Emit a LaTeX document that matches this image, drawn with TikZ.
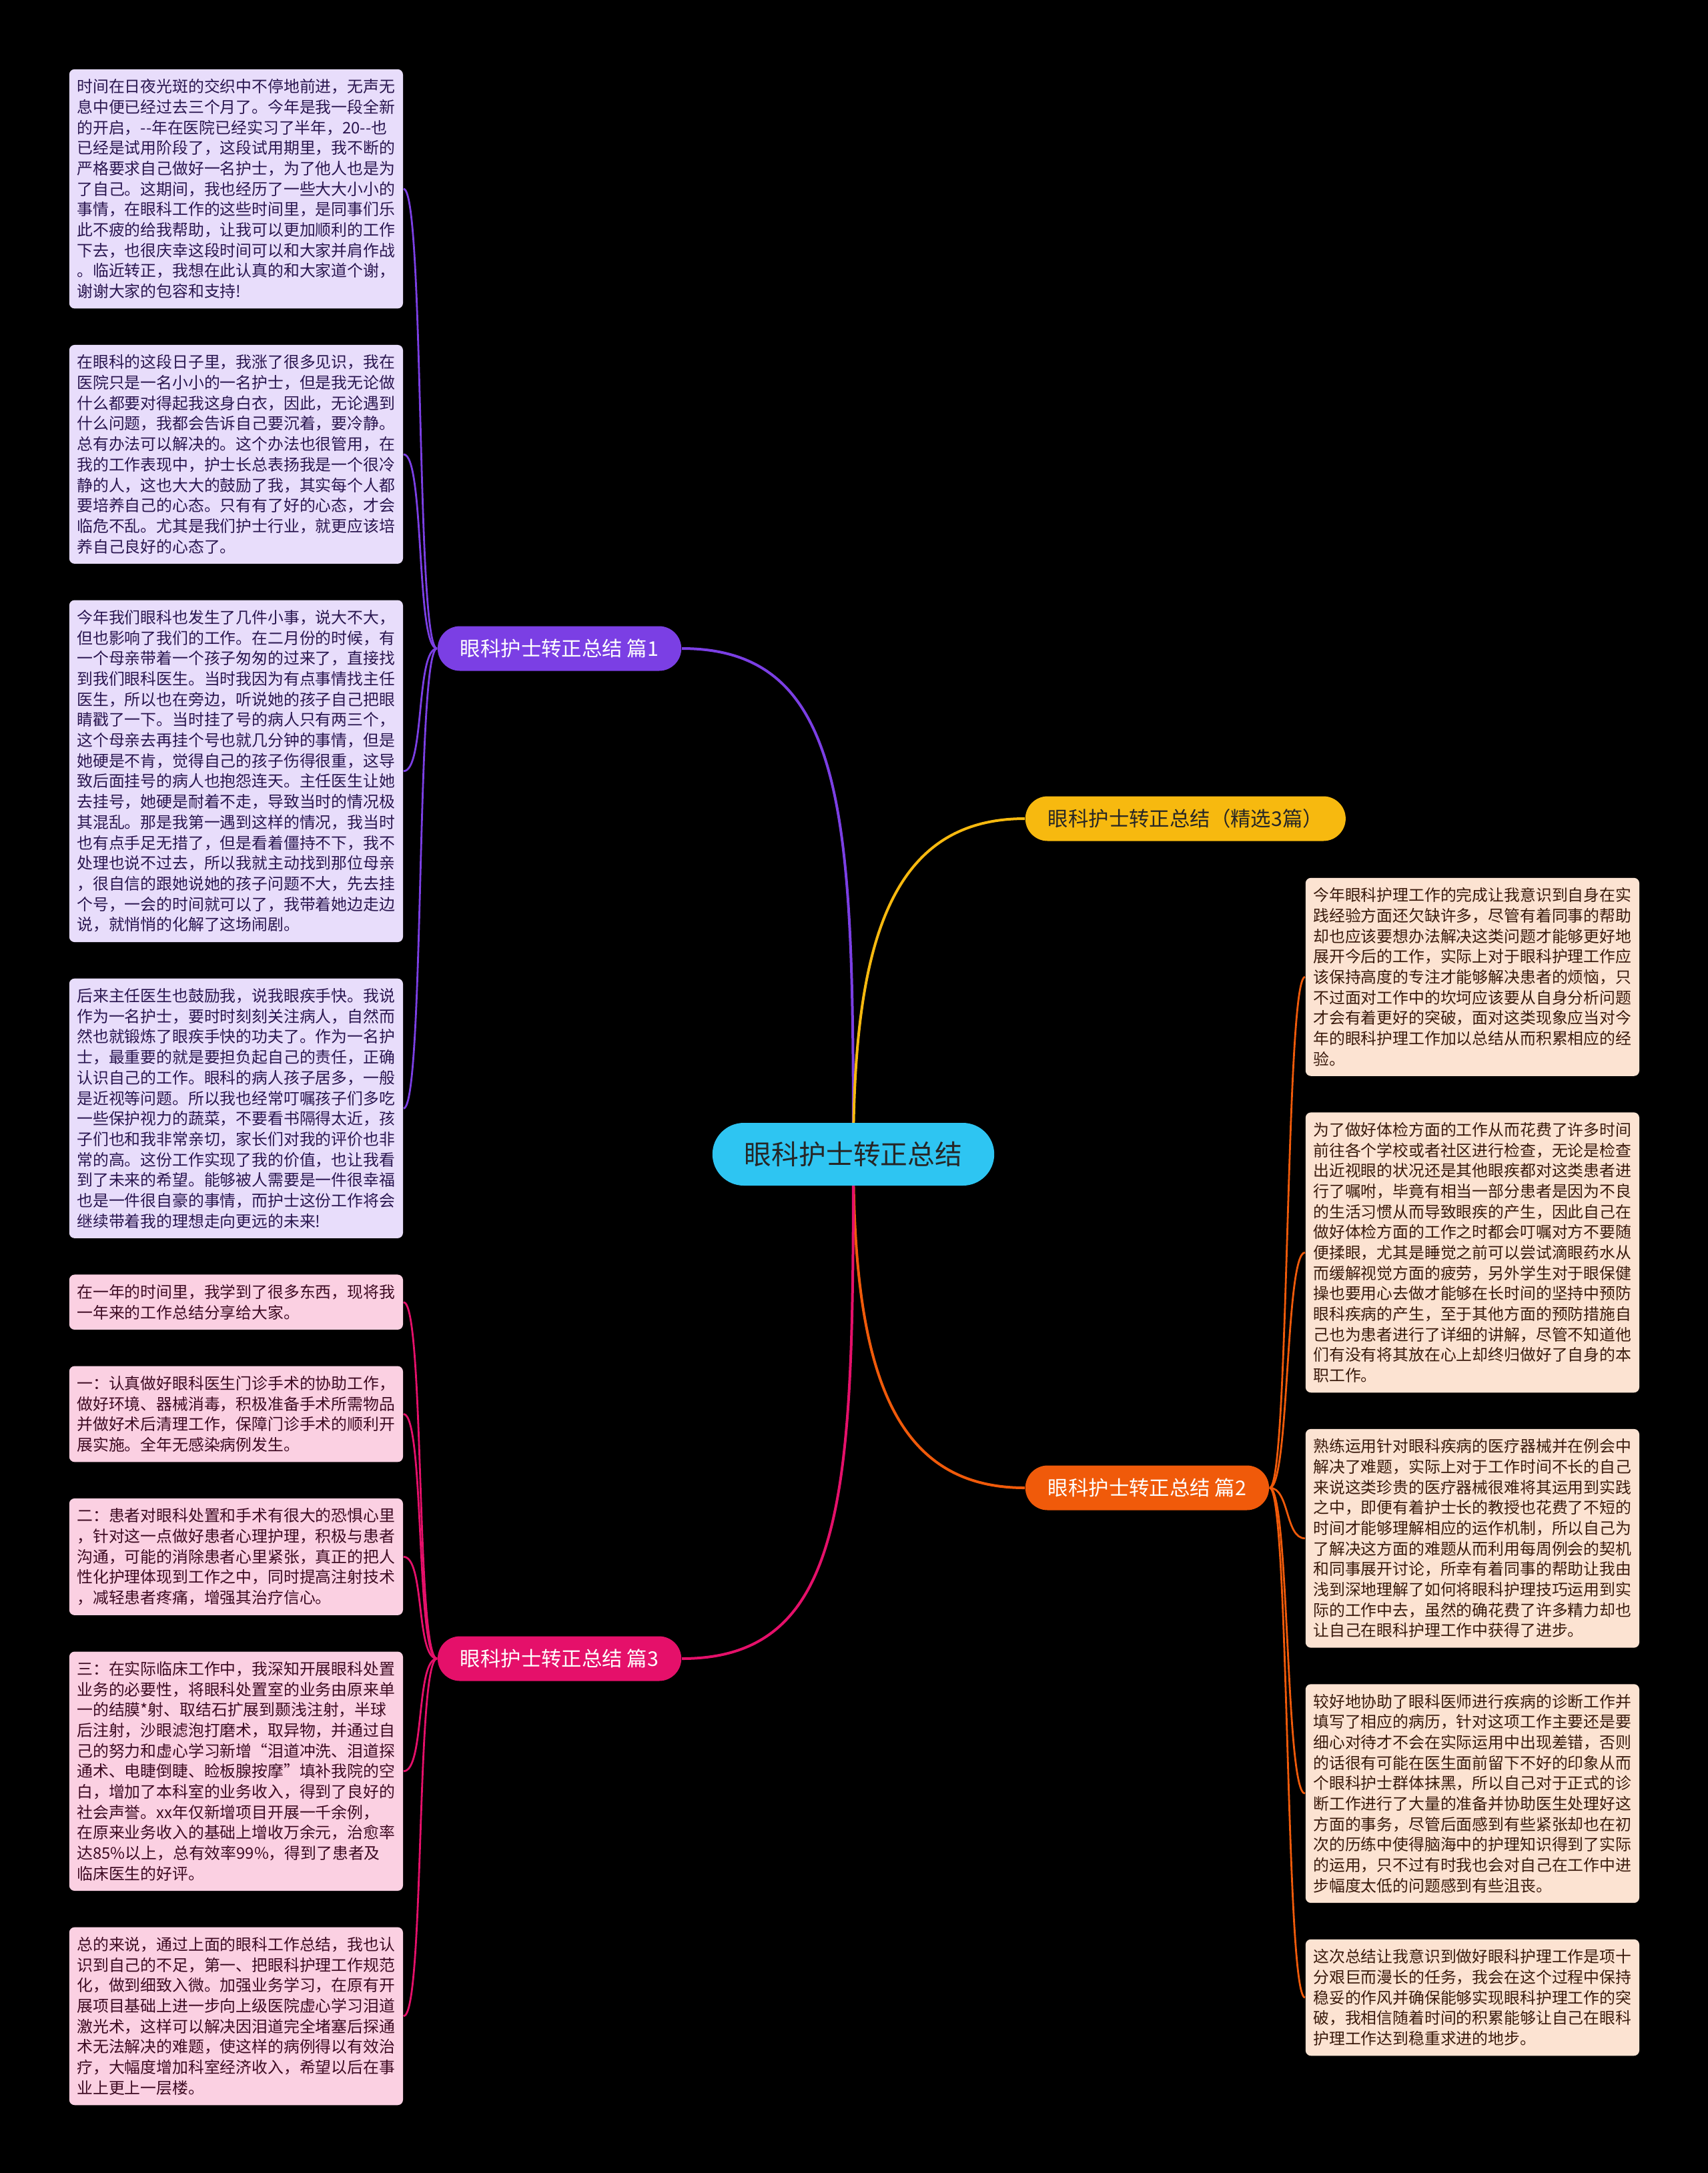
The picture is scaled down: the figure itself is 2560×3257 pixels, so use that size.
\documentclass[tikz,border=0pt]{standalone}
\usepackage{fontspec}
\newfontfamily\cjk{Noto Sans CJK SC}
\usetikzlibrary{positioning, backgrounds}
\definecolor{rootcyan}{HTML}{2EC5F2}
\definecolor{vio}{HTML}{7B3FE4}
\definecolor{gold}{HTML}{F7B90F}
\definecolor{tang}{HTML}{F05A0A}
\definecolor{rose}{HTML}{E5106A}
\definecolor{lavfill}{HTML}{E8DDFB}
\definecolor{lavtext}{HTML}{2A1650}
\definecolor{pinkfill}{HTML}{FBD0E2}
\definecolor{pinktext}{HTML}{3D0A22}
\definecolor{peachfill}{HTML}{FCE3D2}
\definecolor{peachtext}{HTML}{3A1A0C}
\tikzset{
    leaf/.style={rounded corners=2pt, align=left, text width=119.25pt, inner xsep=2.9pt, inner ysep=3.7pt, font=\fontsize{5.96pt}{7.67pt}\selectfont\cjk},
    lav/.style={leaf, fill=lavfill, text=lavtext},
    pink/.style={leaf, fill=pinkfill, text=pinktext},
    peach/.style={leaf, fill=peachfill, text=peachtext},
    branch/.style={rounded corners=8.37pt, minimum height=16.75pt, inner xsep=8.5pt, inner ysep=0pt, text=white, font=\fontsize{7.6pt}{9pt}\selectfont\cjk},
    root/.style={fill=rootcyan, rounded corners=11.75pt, minimum height=23.5pt, inner xsep=12pt, inner ysep=0pt, text=black!85, font=\fontsize{10.2pt}{12pt}\selectfont\cjk},
    link/.style={line width=1pt},
    twig/.style={line width=0.7pt}
}

\begin{document}
\begin{tikzpicture}[x=0.25pt, y=-0.25pt, node distance=13.25pt]
    \useasboundingbox (0,0) rectangle (2560,3257);

    \node [root] (root) at (1279,1730) {眼科护士转正总结};
    \node [branch, fill=vio, anchor=east] (sec1) at (1022,972) {眼科护士转正总结 篇1};
    \node [branch, fill=gold, text=black!85, anchor=west] (sel) at (1536,1227) {眼科护士转正总结（精选3篇）};
    \node [branch, fill=tang, anchor=west] (sec2) at (1536,2230) {眼科护士转正总结 篇2};
    \node [branch, fill=rose, anchor=east] (sec3) at (1022,2486) {眼科护士转正总结 篇3};

    \node [lav, anchor=north west] (l1) at (103,103) {时间在日夜光斑的交织中不停地前进，无声无\\息中便已经过去三个月了。今年是我一段全新\\的开启，--年在医院已经实习了半年，20--也\\已经是试用阶段了，这段试用期里，我不断的\\严格要求自己做好一名护士，为了他人也是为\\了自己。这期间，我也经历了一些大大小小的\\事情，在眼科工作的这些时间里，是同事们乐\\此不疲的给我帮助，让我可以更加顺利的工作\\下去，也很庆幸这段时间可以和大家并肩作战\\。临近转正，我想在此认真的和大家道个谢，\\谢谢大家的包容和支持!};
    \node [lav, below=of l1] (l2) {在眼科的这段日子里，我涨了很多见识，我在\\医院只是一名小小的一名护士，但是我无论做\\什么都要对得起我这身白衣，因此，无论遇到\\什么问题，我都会告诉自己要沉着，要冷静。\\总有办法可以解决的。这个办法也很管用，在\\我的工作表现中，护士长总表扬我是一个很冷\\静的人，这也大大的鼓励了我，其实每个人都\\要培养自己的心态。只有有了好的心态，才会\\临危不乱。尤其是我们护士行业，就更应该培\\养自己良好的心态了。};
    \node [lav, below=of l2] (l3) {今年我们眼科也发生了几件小事，说大不大，\\但也影响了我们的工作。在二月份的时候，有\\一个母亲带着一个孩子匆匆的过来了，直接找\\到我们眼科医生。当时我因为有点事情找主任\\医生，所以也在旁边，听说她的孩子自己把眼\\睛戳了一下。当时挂了号的病人只有两三个，\\这个母亲去再挂个号也就几分钟的事情，但是\\她硬是不肯，觉得自己的孩子伤得很重，这导\\致后面挂号的病人也抱怨连天。主任医生让她\\去挂号，她硬是耐着不走，导致当时的情况极\\其混乱。那是我第一遇到这样的情况，我当时\\也有点手足无措了，但是看着僵持不下，我不\\处理也说不过去，所以我就主动找到那位母亲\\，很自信的跟她说她的孩子问题不大，先去挂\\个号，一会的时间就可以了，我带着她边走边\\说，就悄悄的化解了这场闹剧。};
    \node [lav, below=of l3] (l4) {后来主任医生也鼓励我，说我眼疾手快。我说\\作为一名护士，要时时刻刻关注病人，自然而\\然也就锻炼了眼疾手快的功夫了。作为一名护\\士，最重要的就是要担负起自己的责任，正确\\认识自己的工作。眼科的病人孩子居多，一般\\是近视等问题。所以我也经常叮嘱孩子们多吃\\一些保护视力的蔬菜，不要看书隔得太近，孩\\子们也和我非常亲切，家长们对我的评价也非\\常的高。这份工作实现了我的价值，也让我看\\到了未来的希望。能够被人需要是一件很幸福\\也是一件很自豪的事情，而护士这份工作将会\\继续带着我的理想走向更远的未来!};

    \node [pink, below=of l4] (p1) {在一年的时间里，我学到了很多东西，现将我\\一年来的工作总结分享给大家。};
    \node [pink, below=of p1] (p2) {一：认真做好眼科医生门诊手术的协助工作，\\做好环境、器械消毒，积极准备手术所需物品\\并做好术后清理工作，保障门诊手术的顺利开\\展实施。全年无感染病例发生。};
    \node [pink, below=of p2] (p3) {二：患者对眼科处置和手术有很大的恐惧心里\\，针对这一点做好患者心理护理，积极与患者\\沟通，可能的消除患者心里紧张，真正的把人\\性化护理体现到工作之中，同时提高注射技术\\，减轻患者疼痛，增强其治疗信心。};
    \node [pink, below=of p3] (p4) {三：在实际临床工作中，我深知开展眼科处置\\业务的必要性，将眼科处置室的业务由原来单\\一的结膜*射、取结石扩展到颞浅注射，半球\\后注射，沙眼滤泡打磨术，取异物，并通过自\\己的努力和虚心学习新增“泪道冲洗、泪道探\\通术、电睫倒睫、睑板腺按摩”填补我院的空\\白，增加了本科室的业务收入，得到了良好的\\社会声誉。xx年仅新增项目开展一千余例，\\在原来业务收入的基础上增收万余元，治愈率\\达85\%以上，总有效率99\%，得到了患者及\\临床医生的好评。};
    \node [pink, below=of p4] (p5) {总的来说，通过上面的眼科工作总结，我也认\\识到自己的不足，第一、把眼科护理工作规范\\化，做到细致入微。加强业务学习，在原有开\\展项目基础上进一步向上级医院虚心学习泪道\\激光术，这样可以解决因泪道完全堵塞后探通\\术无法解决的难题，使这样的病例得以有效治\\疗，大幅度增加科室经济收入，希望以后在事\\业上更上一层楼。};

    \node [peach, anchor=north west] (r1) at (1956,1315) {今年眼科护理工作的完成让我意识到自身在实\\践经验方面还欠缺许多，尽管有着同事的帮助\\却也应该要想办法解决这类问题才能够更好地\\展开今后的工作，实际上对于眼科护理工作应\\该保持高度的专注才能够解决患者的烦恼，只\\不过面对工作中的坎坷应该要从自身分析问题\\才会有着更好的突破，面对这类现象应当对今\\年的眼科护理工作加以总结从而积累相应的经\\验。};
    \node [peach, below=of r1] (r2) {为了做好体检方面的工作从而花费了许多时间\\前往各个学校或者社区进行检查，无论是检查\\出近视眼的状况还是其他眼疾都对这类患者进\\行了嘱咐，毕竟有相当一部分患者是因为不良\\的生活习惯从而导致眼疾的产生，因此自己在\\做好体检方面的工作之时都会叮嘱对方不要随\\便揉眼，尤其是睡觉之前可以尝试滴眼药水从\\而缓解视觉方面的疲劳，另外学生对于眼保健\\操也要用心去做才能够在长时间的坚持中预防\\眼科疾病的产生，至于其他方面的预防措施自\\己也为患者进行了详细的讲解，尽管不知道他\\们有没有将其放在心上却终归做好了自身的本\\职工作。};
    \node [peach, below=of r2] (r3) {熟练运用针对眼科疾病的医疗器械并在例会中\\解决了难题，实际上对于工作时间不长的自己\\来说这类珍贵的医疗器械很难将其运用到实践\\之中，即便有着护士长的教授也花费了不短的\\时间才能够理解相应的运作机制，所以自己为\\了解决这方面的难题从而利用每周例会的契机\\和同事展开讨论，所幸有着同事的帮助让我由\\浅到深地理解了如何将眼科护理技巧运用到实\\际的工作中去，虽然的确花费了许多精力却也\\让自己在眼科护理工作中获得了进步。};
    \node [peach, below=of r3] (r4) {较好地协助了眼科医师进行疾病的诊断工作并\\填写了相应的病历，针对这项工作主要还是要\\细心对待才不会在实际运用中出现差错，否则\\的话很有可能在医生面前留下不好的印象从而\\个眼科护士群体抹黑，所以自己对于正式的诊\\断工作进行了大量的准备并协助医生处理好这\\方面的事务，尽管后面感到有些紧张却也在初\\次的历练中使得脑海中的护理知识得到了实际\\的运用，只不过有时我也会对自己在工作中进\\步幅度太低的问题感到有些沮丧。};
    \node [peach, below=of r4] (r5) {这次总结让我意识到做好眼科护理工作是项十\\分艰巨而漫长的任务，我会在这个过程中保持\\稳妥的作风并确保能够实现眼科护理工作的突\\破，我相信随着时间的积累能够让自己在眼科\\护理工作达到稳重求进的地步。};

    \begin{scope}[on background layer]
        \fill [black] (0,0) rectangle (2560,3257);
        \draw [link, vio] (root.center) .. controls +(0,-500) and +(250,0) .. (sec1.east);
        \draw [link, gold] (root.center) .. controls +(0,-320) and +(-200,0) .. (sel.west);
        \draw [link, tang] (root.center) .. controls +(0,320) and +(-200,0) .. (sec2.west);
        \draw [link, rose] (root.center) .. controls +(0,500) and +(250,0) .. (sec3.east);
        \foreach \n in {l1,l2,l3,l4}
            \draw [twig, vio] (sec1.west) .. controls +(-32,0) and +(32,0) .. (\n.east);
        \foreach \n in {p1,p2,p3,p4,p5}
            \draw [twig, rose] (sec3.west) .. controls +(-32,0) and +(32,0) .. (\n.east);
        \foreach \n in {r1,r2,r3,r4,r5}
            \draw [twig, tang] (sec2.east) .. controls +(30,0) and +(-30,0) .. (\n.west);
    \end{scope}
\end{tikzpicture}
\end{document}
